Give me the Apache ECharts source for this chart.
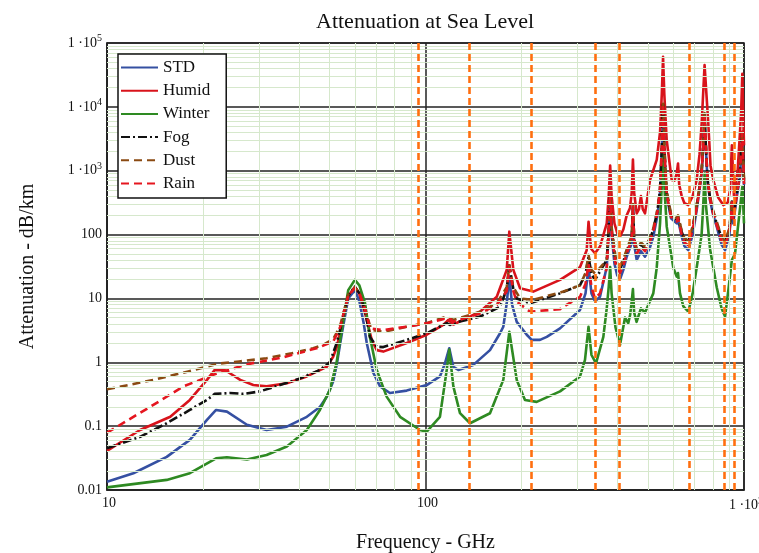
<!DOCTYPE html>
<html>
<head>
<meta charset="utf-8">
<script src="https://cdn.jsdelivr.net/npm/echarts@6/dist/echarts.min.js"></script>
<style>
  html, body { margin: 0; padding: 0; background: #ffffff; }
  #chart { width: 759px; height: 553px; }
</style>
</head>
<body>
<div id="chart"></div>
<script>
// Specific attenuation (dB/km) versus frequency (GHz), pairs of [GHz, dB/km]
const std = [
  [10, 0.0135], [12.1, 0.0183], [15.4, 0.033], [18.2, 0.061], [20.6, 0.125], [22, 0.179], [23.8, 0.169],
  [27.5, 0.105], [31.7, 0.087], [36.7, 0.098], [42.4, 0.14], [46.6, 0.2], [49, 0.289], [51.3, 0.5],
  [52.6, 0.9], [54, 2.0], [55.2, 3.8], [57.2, 10], [60, 13.5], [62, 9], [64, 4], [65.4, 2.0],
  [68.6, 0.68], [72, 0.42], [77.3, 0.33], [87.3, 0.36], [100.9, 0.44], [111, 0.6], [115.1, 0.96],
  [118.75, 1.66], [122.3, 0.85], [126.8, 0.76], [141.3, 0.91], [159.4, 1.55], [171.4, 2.85], [175.5, 3.6],
  [179.9, 8.4], [183.3, 22], [187, 8], [193.4, 4.3], [207.9, 2.7], [215.5, 2.24], [228.8, 2.24],
  [240.3, 2.5], [264.5, 3.4], [305.6, 6.6], [318, 12], [325, 31], [332, 12], [340.5, 9.0], [353.1, 10.6],
  [370.7, 31], [376, 100], [380, 400], [384, 100], [392, 35], [400, 23], [408, 20], [418, 28],
  [428.2, 45], [444, 73], [448, 250], [452, 70], [460.4, 40], [474.7, 55], [488.9, 45], [505, 60],
  [519.1, 93], [535, 200], [544.9, 443], [552, 2000], [557, 10000], [562, 2000], [571.9, 400],
  [590, 180], [614.7, 150], [620.7, 170], [637.4, 93], [650, 66], [668.5, 57], [690, 100],
  [710.3, 243], [725, 500], [736.4, 910], [747, 3000], [752, 7000], [757, 3000], [768, 700], [782, 346],
  [801, 200], [821, 133], [850, 70], [872, 57], [900, 100], [916, 300], [925, 150], [950, 400],
  [971, 800], [980, 1800], [988, 4000], [994, 1500], [1000, 600]
];
const humid = [
  [10, 0.041], [12.7, 0.087], [15.8, 0.14], [18.2, 0.257], [20.6, 0.53], [21.8, 0.76], [23.5, 0.75],
  [26.2, 0.53], [28.8, 0.44], [31.7, 0.42], [36.7, 0.47], [42.4, 0.6], [49, 0.85], [51.3, 1.22],
  [52.6, 1.7], [54, 3], [55.2, 5], [57.2, 11], [60, 15], [62, 12], [64.6, 5.8], [67.8, 2.24],
  [70.3, 1.55], [73.7, 1.47], [87.3, 2.0], [100.9, 2.7], [113.7, 3.84], [117.9, 4.6], [122.3, 3.9],
  [148.3, 6.2], [167.4, 10.6], [179.9, 28], [183.3, 111], [188.7, 28], [198.1, 14.4], [218, 12.8],
  [264.5, 19.5], [305.6, 31], [320.7, 57], [325, 159], [331, 60], [340.5, 51], [353.1, 65],
  [370.7, 150], [376, 400], [380, 1200], [384, 400], [392, 150], [400, 105], [408, 93], [418, 120],
  [428.2, 200], [438.6, 260], [444, 450], [448, 1500], [452, 450], [460.4, 215], [468, 250],
  [474.7, 400], [481, 250], [488.9, 215], [506.9, 716], [532.1, 1480], [545, 4000], [552, 16000],
  [557, 61000], [562, 16000], [571.9, 3000], [592.9, 716], [605, 700], [614.7, 900], [620.7, 1300],
  [626, 600], [637.4, 400], [650, 310], [668.5, 290], [690, 400], [710.3, 716], [725, 1800],
  [736.4, 5500], [752, 45000], [772.5, 5500], [785, 1200], [801, 716], [830, 380], [861, 290],
  [872, 273], [890, 320], [904, 500], [916, 2500], [930, 400], [955, 1000], [971, 3860], [980, 9000],
  [988, 33000], [994, 8000], [1000, 2500]
];
const winter = [
  [10, 0.011], [15.4, 0.0144], [18.2, 0.0183], [22, 0.0314], [23.8, 0.0326], [27.5, 0.030],
  [31.7, 0.0353], [36.7, 0.048], [42.4, 0.087], [46.6, 0.179], [50.1, 0.37], [52.6, 1.0], [55.2, 4.6],
  [57.2, 13.5], [60, 19.5], [62, 16], [64.6, 8.4], [66.9, 2.5], [70.3, 0.76], [75.5, 0.29], [83.2, 0.14],
  [96.1, 0.087], [100.9, 0.082], [111, 0.14], [116.6, 0.76], [118.75, 1.58], [122.3, 0.42], [128.3, 0.16],
  [138, 0.111], [159.4, 0.159], [175.5, 0.53], [183.3, 3.0], [193.4, 0.53], [205.3, 0.257], [223.4, 0.24],
  [264.5, 0.35], [305.6, 0.6], [316.8, 1.09], [325, 3.6], [332, 1.3], [343, 0.96], [361.7, 2.5],
  [370.7, 7], [376, 15], [380, 31], [384, 12], [395, 3.5], [408, 1.86], [423, 5.0], [433, 4.1],
  [439, 5.5], [444, 9], [448, 14], [452, 6], [460, 4.3], [474.7, 7], [489, 6], [519, 12], [532, 30],
  [545, 150], [552, 600], [557, 1800], [562, 600], [572, 133], [600, 30], [614.7, 22], [620.7, 25],
  [629.5, 12], [645, 7.5], [668.5, 6.2], [690, 12], [710, 30], [736, 100], [745, 300], [752, 900],
  [759, 300], [782, 60], [821, 15], [850, 7], [872, 5.2], [893, 13.5], [916, 40], [937, 50], [960, 150],
  [971, 250], [988, 560], [994, 300], [1000, 150]
];
const fog = [
  [10, 0.045], [12.7, 0.068], [15.4, 0.111], [18.2, 0.179], [20.6, 0.257], [21.8, 0.32], [24.3, 0.33],
  [26.8, 0.32], [30.2, 0.35], [34.9, 0.44], [40.4, 0.56], [46.6, 0.76], [50.1, 1.0], [51.3, 1.4],
  [52.6, 2.0], [54, 3.3], [55.2, 5.5], [57.2, 11], [60, 15.3], [62, 12], [64.6, 6.5], [66.9, 2.5],
  [70.3, 1.75], [73.7, 1.73], [87.3, 2.24], [100.9, 2.85], [116.6, 4.1], [119.4, 3.84], [122.3, 4.1],
  [148.3, 5.2], [171.4, 7.4], [179.9, 14], [183.3, 33], [188.7, 14], [193.4, 10], [212.9, 8.4],
  [264.5, 12], [305.6, 16.2], [318, 24], [325, 45], [332, 24], [340.5, 19.5], [370.7, 40], [376, 120],
  [380, 450], [384, 120], [395, 40], [408, 29], [418, 38], [428.2, 55], [444, 90], [448, 280], [452, 85],
  [460.4, 55], [474.7, 70], [488.9, 60], [505, 80], [519.1, 120], [535, 240], [544.9, 500], [552, 2300],
  [557, 11000], [562, 2300], [571.9, 450], [590, 200], [614.7, 170], [620.7, 190], [637.4, 110],
  [650, 85], [668.5, 78], [690, 130], [710.3, 280], [725, 560], [736.4, 1000], [747, 3300], [752, 7500],
  [757, 3300], [768, 750], [782, 380], [801, 220], [821, 150], [850, 90], [872, 78], [900, 120],
  [916, 330], [925, 180], [950, 450], [971, 900], [980, 2000], [988, 4200], [994, 1600], [1000, 650]
];
const dust = [
  [10, 0.377], [14, 0.53], [18, 0.72], [22.3, 0.95], [26, 1.03], [31.7, 1.16], [38, 1.38], [44.4, 1.66],
  [48, 1.9], [51.3, 2.3], [52.6, 2.9], [54, 3.8], [55.2, 5.8], [57.2, 11.5], [60, 15], [62, 12],
  [64.6, 6.8], [66.9, 3.8], [67.8, 3.2], [73.7, 3.0], [87.3, 3.6], [100.9, 4.1], [116.6, 5.2],
  [122.3, 4.6], [148.3, 6.2], [167.4, 8.4], [179.9, 15], [183.3, 33], [188.7, 15], [198.1, 10],
  [218, 9.5], [270.9, 12.8], [305.6, 16], [318, 25], [325, 48], [332, 28], [340.5, 24.5], [370.7, 40],
  [376, 130], [380, 480], [384, 130], [395, 45], [408, 32], [418, 41], [428.2, 58], [444, 95], [448, 300],
  [452, 90], [460.4, 60], [474.7, 75], [488.9, 65], [505, 85], [519.1, 125], [535, 250], [544.9, 520],
  [552, 2500], [557, 12000], [562, 2500], [571.9, 480], [590, 210], [614.7, 180], [620.7, 200],
  [637.4, 115], [650, 88], [668.5, 80], [690, 135], [710.3, 290], [725, 580], [736.4, 1050], [747, 3500],
  [752, 8000], [757, 3500], [768, 800], [782, 400], [801, 230], [821, 160], [850, 92], [872, 80],
  [900, 125], [916, 340], [925, 190], [950, 470], [971, 950], [980, 2100], [988, 4300], [994, 1700],
  [1000, 700]
];
const rain = [
  [10, 0.079], [13.65, 0.2], [17.4, 0.42], [22.3, 0.68], [28.1, 0.95], [35.8, 1.2], [45.5, 1.66],
  [51.3, 2.1], [52.6, 2.7], [54, 3.6], [55.2, 5.6], [57.2, 11], [60, 14.5], [62, 12], [64.6, 6.8],
  [66.9, 3.4], [73.7, 3.2], [87.3, 3.6], [100.9, 4.1], [111, 4.6], [117.9, 5.0], [122.3, 4.3],
  [148.3, 5.8], [167.4, 7.9], [179.9, 13], [183.3, 31], [188.7, 13], [193.4, 8.9], [212.9, 6.2],
  [264.5, 6.8], [270.9, 7.4], [305.6, 10.6], [318, 17], [325, 35], [332, 15], [340.5, 10], [353.1, 12],
  [370.7, 30], [376, 110], [380, 450], [384, 110], [395, 35], [408, 25], [418, 33], [428.2, 50], [444, 85],
  [448, 270], [452, 80], [460.4, 50], [474.7, 65], [488.9, 55], [505, 75], [519.1, 110], [535, 230],
  [544.9, 480], [552, 2200], [557, 11000], [562, 2200], [571.9, 430], [590, 190], [614.7, 160],
  [620.7, 180], [637.4, 100], [650, 75], [668.5, 68], [690, 120], [710.3, 260], [725, 530], [736.4, 950],
  [747, 3200], [752, 7300], [757, 3200], [768, 720], [782, 360], [801, 210], [821, 140], [850, 80],
  [872, 68], [900, 110], [916, 320], [925, 170], [950, 430], [971, 870], [980, 1900], [988, 4100],
  [994, 1550], [1000, 620]
];

// Transmission windows marked with vertical dashed lines (GHz)
const windowFreqs = [95.2, 137.3, 215.5, 342, 406, 672, 868, 935];

// Tick labels, one per decade; "^" marks a superscript exponent
const xTickLabels = ['10', '100', '1 \u00b710^3'];
const yTickLabels = ['0.01', '0.1', '1', '10', '100', '1 \u00b710^3', '1 \u00b710^4', '1 \u00b710^5'];

const SERIF = '"Liberation Serif", "DejaVu Serif", serif';

function richTick(t) {
  const p = t.split('^');
  return p.length > 1 ? '{m|' + p[0] + '}{s|' + p[1] + '}' : '{m|' + t + '}';
}
const tickRich = {
  m: { fontFamily: SERIF, fontSize: 14, color: '#111' },
  s: { fontFamily: SERIF, fontSize: 10, color: '#111', padding: [0, 0, 9, 0] }
};

// light minor grid at 2..9 of every decade
const xMinor = [], yMinor = [];
for (let d = 10; d < 1000; d *= 10) for (let k = 2; k <= 9; k++) xMinor.push(k * d);
for (let e = -2; e < 5; e++) for (let k = 2; k <= 9; k++) yMinor.push(k * Math.pow(10, e));

const chart = echarts.init(document.getElementById('chart'), null, { renderer: 'canvas' });

function curve(name, data, color, type) {
  return {
    name: name, type: 'line', data: data, symbol: 'none', z: 3,
    lineStyle: { color: color, width: 2.6, type: type, cap: 'butt', join: 'round' },
    itemStyle: { color: color },
    emphasis: { disabled: true }, animation: false
  };
}

chart.setOption({
  backgroundColor: '#ffffff',
  animation: false,
  title: {
    text: 'Attenuation at Sea Level',
    left: 311, top: 6,
    textStyle: { fontFamily: SERIF, fontSize: 22, fontWeight: 'normal', color: '#111' }
  },
  legend: {
    orient: 'vertical', left: 118, top: 54, z: 20,
    data: ['STD', 'Humid', 'Winter', 'Fog', 'Dust', 'Rain'],
    backgroundColor: '#ffffff', borderColor: '#111', borderWidth: 1.5,
    padding: [5, 16, 6, 2], itemGap: 6.2, itemWidth: 37, itemHeight: 14,
    itemStyle: { opacity: 0 },
    textStyle: { fontFamily: SERIF, fontSize: 17, color: '#111' },
    selectedMode: false
  },
  grid: {
    left: 107, right: 15, top: 43, bottom: 63, outerBoundsMode: 'none',
    show: true, borderColor: '#222', borderWidth: 1.5
  },
  xAxis: {
    type: 'log', logBase: 10, min: 10, max: 1000,
    name: 'Frequency - GHz', nameLocation: 'middle', nameGap: 43,
    nameTextStyle: { fontFamily: SERIF, fontSize: 20, color: '#111' },
    axisLine: { show: true, lineStyle: { color: '#222', width: 1.5 } },
    axisTick: { show: false },
    axisLabel: {
      margin: 6, padding: [0, 0, 0, 4],
      formatter: v => richTick(xTickLabels[Math.round(Math.log10(v)) - 1]),
      rich: tickRich
    },
    splitLine: { show: true, lineStyle: { color: '#222', width: 1.5 } }
  },
  yAxis: {
    type: 'log', logBase: 10, min: 0.01, max: 100000, splitNumber: 7,
    name: 'Attenuation - dB/km', nameLocation: 'middle', nameGap: 69, nameRotate: 90,
    nameTextStyle: { fontFamily: SERIF, fontSize: 20, color: '#111' },
    axisLine: { show: true, lineStyle: { color: '#222', width: 1.5 } },
    axisTick: { show: false },
    axisLabel: {
      margin: 5,
      formatter: v => richTick(yTickLabels[Math.round(Math.log10(v)) + 2]),
      rich: tickRich
    },
    splitLine: { show: true, lineStyle: { color: '#222', width: 1.5 } }
  },
  series: [
    {
      name: 'minor-grid', type: 'line', data: [], z: 1, silent: true,
      markLine: {
        silent: true, symbol: ['none', 'none'], label: { show: false }, animation: false,
        lineStyle: { color: '#d6e8cc', width: 1, type: 'solid' },
        data: xMinor.map(v => ({ xAxis: v })).concat(yMinor.map(v => ({ yAxis: v })))
      }
    },
    curve('STD', std, '#3550a2', 'solid'),
    curve('Humid', humid, '#d8131b', 'solid'),
    curve('Winter', winter, '#2e8a22', 'solid'),
    curve('Fog', fog, '#111111', [9, 3, 2, 3]),
    curve('Dust', dust, '#8a4a12', [8, 5]),
    curve('Rain', rain, '#e5161f', [8, 5]),
    {
      name: 'windows', type: 'line', data: [], z: 4, silent: true,
      markLine: {
        silent: true, symbol: ['none', 'none'], label: { show: false }, animation: false,
        lineStyle: { color: '#ff6f0f', width: 2.6, type: [7, 4] },
        data: windowFreqs.map(v => ({ xAxis: v }))
      }
    }
  ]
});
</script>
</body>
</html>
